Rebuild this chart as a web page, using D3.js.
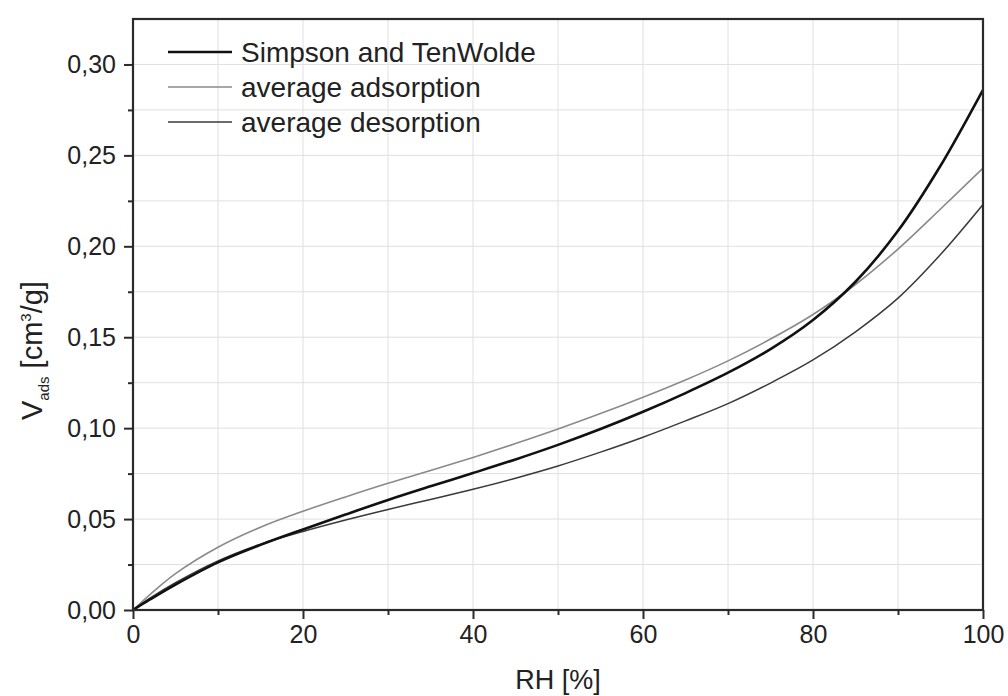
<!DOCTYPE html>
<html>
<head>
<meta charset="utf-8">
<script src="https://cdn.jsdelivr.net/npm/d3@7"></script>
<style>
  html, body { margin: 0; padding: 0; background: #fff; }
  svg { display: block; font-family: "Liberation Sans", Arial, sans-serif; }
</style>
</head>
<body>
<svg id="chart" width="1008" height="696"></svg>
<script>
const rh = [0, 2, 5, 10, 15, 20, 25, 30, 35, 40, 45, 50, 55, 60, 65, 70, 75, 80, 85, 90, 95, 100];
const simpson = [0, 0.0058, 0.0140, 0.0262, 0.0358, 0.0443, 0.0525, 0.0605, 0.068, 0.0753, 0.0828, 0.0908, 0.0995, 0.109, 0.1193, 0.1305, 0.1435, 0.1595, 0.1805, 0.2085, 0.2443, 0.286];
const adsorption = [0, 0.0085, 0.0200, 0.0345, 0.0455, 0.0543, 0.0622, 0.0697, 0.0767, 0.0839, 0.0915, 0.0995, 0.108, 0.117, 0.1265, 0.137, 0.149, 0.1625, 0.179, 0.1985, 0.2205, 0.243];
const desorption = [0, 0.0065, 0.015, 0.027, 0.0362, 0.0432, 0.0495, 0.0553, 0.0608, 0.0664, 0.0725, 0.0792, 0.0868, 0.095, 0.104, 0.1135, 0.1248, 0.1375, 0.153, 0.1715, 0.1955, 0.223];
const seriesNames = ["Simpson and TenWolde", "average adsorption", "average desorption"];
const xMajorTicks = [0, 20, 40, 60, 80, 100];
const xMinorTicks = [10, 30, 50, 70, 90];
const yMajorTicks = [0, 0.05, 0.10, 0.15, 0.20, 0.25, 0.30];
const yMinorTicks = [0.025, 0.075, 0.125, 0.175, 0.225, 0.275];
const xTitle = "RH [%]";

const svg = d3.select("#chart");
const L = 133, R = 983, T = 19, B = 610;
const x = d3.scaleLinear().domain([0, 100]).range([L, R]);
const y = d3.scaleLinear().domain([0, 0.325]).range([B, T]);

const styles = [
  { color: "#111", width: 2.6 },
  { color: "#8a8a8a", width: 1.6 },
  { color: "#3a3a3a", width: 1.5 }
];

// grid
const grid = svg.append("g");
const xGridVals = [...xMajorTicks, ...xMinorTicks].filter(v => v > 0 && v < 100);
grid.selectAll("line.gx").data(xGridVals).enter().append("line")
  .attr("x1", d => x(d)).attr("x2", d => x(d)).attr("y1", T).attr("y2", B)
  .attr("stroke", "#e0e0e0").attr("stroke-width", 1);
const yGridVals = [...yMajorTicks, ...yMinorTicks].filter(v => v > 0);
grid.selectAll("line.gy").data(yGridVals).enter().append("line")
  .attr("x1", L).attr("x2", R).attr("y1", d => y(d)).attr("y2", d => y(d))
  .attr("stroke", "#e0e0e0").attr("stroke-width", 1);

// curves
const seriesData = [simpson, adsorption, desorption];
const line = d3.line().x(d => x(d[0])).y(d => y(d[1])).curve(d3.curveCatmullRom.alpha(0.5));
svg.append("clipPath").attr("id", "clip").append("rect")
  .attr("x", L).attr("y", T).attr("width", R - L).attr("height", B - T);
const order = [1, 2, 0];
order.forEach(i => {
  svg.append("path")
    .datum(rh.map((r, j) => [r, seriesData[i][j]]))
    .attr("d", line)
    .attr("fill", "none")
    .attr("stroke", styles[i].color)
    .attr("stroke-width", styles[i].width)
    .attr("clip-path", "url(#clip)");
});

// axes
const fmt = d => d3.format(".2f")(d).replace(".", ",");
const axisColor = "#2a2a2a";
const yAxis = svg.append("g").attr("transform", `translate(${L},0)`)
  .call(d3.axisLeft(y).tickValues(yMajorTicks).tickFormat(fmt).tickSize(9).tickPadding(8));
const yMinor = svg.append("g").attr("transform", `translate(${L},0)`)
  .call(d3.axisLeft(y).tickValues(yMinorTicks).tickFormat("").tickSize(5));
const xAxis = svg.append("g").attr("transform", `translate(0,${B})`)
  .call(d3.axisBottom(x).tickValues(xMajorTicks).tickFormat(d => d).tickSize(9).tickPadding(6));
const xMinor = svg.append("g").attr("transform", `translate(0,${B})`)
  .call(d3.axisBottom(x).tickValues(xMinorTicks).tickFormat("").tickSize(5));
[yAxis, yMinor, xAxis, xMinor].forEach(g => {
  g.select(".domain").remove();
  g.selectAll(".tick line").attr("stroke", axisColor).attr("stroke-width", 2);
  g.selectAll(".tick text").attr("fill", "#222").style("font-size", "25px")
    .style("font-family", "'Liberation Sans', Arial, sans-serif");
});

// frame
svg.append("rect").attr("x", L).attr("y", T).attr("width", R - L).attr("height", B - T)
  .attr("fill", "none").attr("stroke", axisColor).attr("stroke-width", 2.2);

// legend
const legend = svg.append("g");
const rowsY = [52, 87, 122];
seriesNames.forEach((name, i) => {
  legend.append("line").attr("x1", 168).attr("x2", 232).attr("y1", rowsY[i]).attr("y2", rowsY[i])
    .attr("stroke", styles[i].color).attr("stroke-width", styles[i].width);
  legend.append("text").attr("x", 241).attr("y", rowsY[i]).attr("dy", "0.36em")
    .attr("fill", "#222").style("font-size", "28px").text(name);
});

// x title
svg.append("text").attr("x", (L + R) / 2).attr("y", 689).attr("text-anchor", "middle")
  .attr("fill", "#222").style("font-size", "27px").text(xTitle);

// y title
const yt = svg.append("text").attr("transform", "translate(42,420) rotate(-90)")
  .attr("fill", "#222").style("font-size", "29px");
yt.append("tspan").text("V");
yt.append("tspan").attr("dy", 7).style("font-size", "15px").text("ads");
yt.append("tspan").attr("dy", -7).text(" [cm");
yt.append("tspan").attr("dy", -11).style("font-size", "15px").text("3");
yt.append("tspan").attr("dy", 11).text("/g]");
</script>
</body>
</html>
